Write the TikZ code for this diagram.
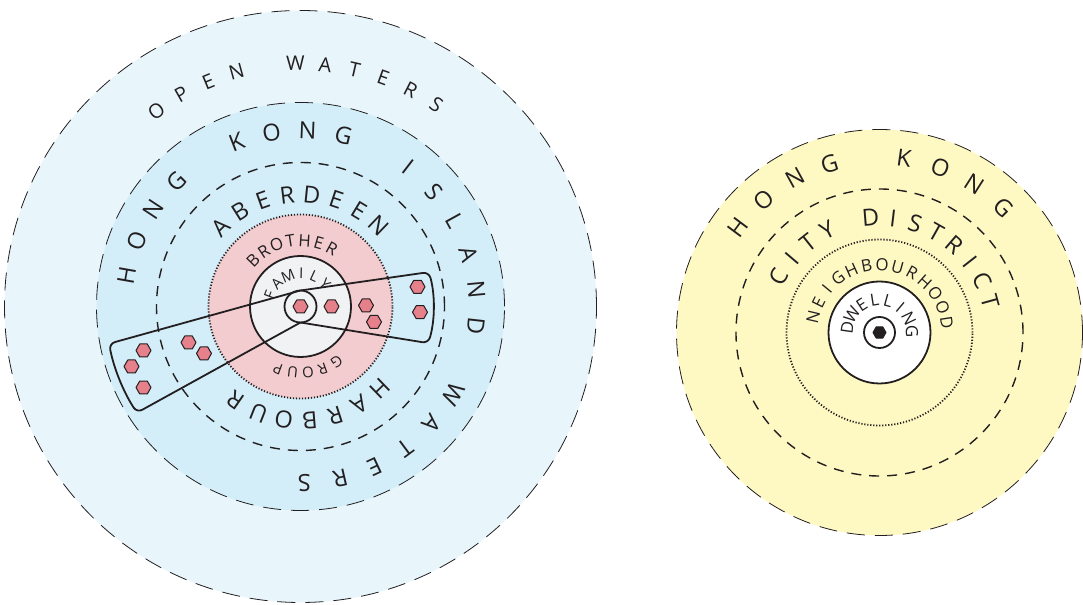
\documentclass[tikz,border=0pt]{standalone}
\usepackage{fontspec}
\setmainfont{Open Sans}
\usetikzlibrary{shapes.geometric}

\definecolor{openblue}{HTML}{E8F6FC}
\definecolor{islandblue}{HTML}{D3EEF9}
\definecolor{brotherpink}{HTML}{F2CCCF}
\definecolor{familygrey}{HTML}{F1F2F4}
\definecolor{cityyellow}{HTML}{FEF9C3}
\definecolor{hexred}{HTML}{E6808A}
\definecolor{ink}{HTML}{231F20}

\newcommand\bigring{\fontsize{11.8}{13}\selectfont}
\newcommand\midring{\fontsize{10}{12}\selectfont}
\newcommand\smallring{\fontsize{8.4}{10}\selectfont}
\newcommand\tinyring{\fontsize{7.4}{9}\selectfont}

\tikzset{
  longdash/.style={draw=ink, line width=0.4pt, dash pattern=on 9pt off 5pt},
  shortdash/.style={draw=ink, line width=0.7pt, dash pattern=on 5pt off 4pt},
  dotring/.style={draw=ink, line width=0.9pt, dash pattern=on 0.6pt off 0.9pt},
  solidring/.style={draw=ink, line width=0.9pt},
  hexa/.style={regular polygon, regular polygon sides=6, minimum size=7.5pt,
    inner sep=0pt, draw=ink, line width=0.5pt, fill=hexred},
  ringletter/.style={inner sep=0pt, text=ink},
}

% letters round a ring, clockwise, tops outwards
% #1 name, #2 radius, #3 first angle, #4 step, #5 font, #6 letters
\newcommand\ringtext[6]{%
  \foreach \ch [count=\k from 0] in {#6}
    \node[ringletter, font=#5, rotate={#3-#4*\k-90}] (#1-\k) at ({#3-#4*\k}:#2) {\ch};
}

\begin{document}
\begin{tikzpicture}[x=0.5pt, y=0.5pt, line join=round]
  \useasboundingbox (0,0) rectangle (1083,605);

  % left: the island and its waters
  \begin{scope}[shift={(300.5,298.5)}]
    \fill[openblue] (0,0) circle (296);
    \draw[longdash] (0,0) circle (296);
    \fill[islandblue] (0,0) circle (204);
    \draw[longdash] (0,0) circle (204);
    \draw[shortdash] (0,0) circle (144);
    \fill[brotherpink] (0,0) circle (92);
    \draw[dotring] (0,0) circle (92);
    \draw[solidring, fill=familygrey] (0,0) circle (50.5);
    \draw[solidring] (0,0) circle (16);
    % the two fans out of the middle
    \draw[solidring, rounded corners=3pt]
      (0,16) -- (191:195) arc[start angle=191, end angle=213, radius=195] -- (0,-16);
    \draw[solidring, rounded corners=3pt]
      (0,16) -- (15:133) arc[start angle=15, end angle=-16, radius=133] -- (0,-16);
    % boats
    \foreach \p [count=\i] in {(0,0),(31,0),(65.5,1),(73.5,-15.5),(117,19.7),
        (119.5,-5.7),(-157,-44),(-169,-60),(-157,-81),(-112,-36),(-96.5,-47)}
      \node[hexa] (boat\i) at \p {};
    % ring labels
    \ringtext{open}{243}{126.4}{7.04}{\midring}{O,P,E,N,,W,A,T,E,R,S}
    \ringtext{island}{176.5}{170}{11.76}{\bigring}{H,O,N,G,,K,O,N,G,,I,S,L,A,N,D,,W,A,T,E,R,S}
    \ringtext{aberdeen}{112.5}{135}{12.7}{\bigring}{A,B,E,R,D,E,E,N}
    \ringtext{harbour}{114.5}{-46}{13.1}{\bigring}{H,A,R,B,O,U,R}
    \ringtext{brother}{66}{136}{12.4}{\smallring}{B,R,O,T,H,E,R}
    \ringtext{group}{66.5}{-57}{13.25}{\tinyring}{G,R,O,U,P}
    \ringtext{family}{33}{159}{23.4}{\tinyring}{F,A,M,I,L,Y}
  \end{scope}

  % right: the city
  \begin{scope}[shift={(879.5,272.5)}]
    \fill[cityyellow] (0,0) circle (203);
    \draw[longdash] (0,0) circle (203);
    \draw[shortdash] (0,0) circle (143.5);
    \draw[dotring] (0,0) circle (93);
    \draw[solidring, fill=white] (0,0) circle (51);
    \draw[solidring] (0,0) circle (15.5);
    \node[hexa, fill=ink, minimum size=6.5pt] (home) at (0,0) {};
    % ring labels
    \ringtext{hk}{176}{143.3}{12.26}{\bigring}{H,O,N,G,,K,O,N,G}
    \ringtext{district}{115}{151}{11.3}{\bigring}{C,I,T,Y,,D,I,S,T,R,I,C,T}
    \ringtext{hood}{68}{167}{13.2}{\smallring}{N,E,I,G,H,B,O,U,R,H,O,O,D}
    \ringtext{dwelling}{32.5}{172}{24.4}{\smallring}{D,W,E,L,L,I,N,G}
  \end{scope}
\end{tikzpicture}
\end{document}
